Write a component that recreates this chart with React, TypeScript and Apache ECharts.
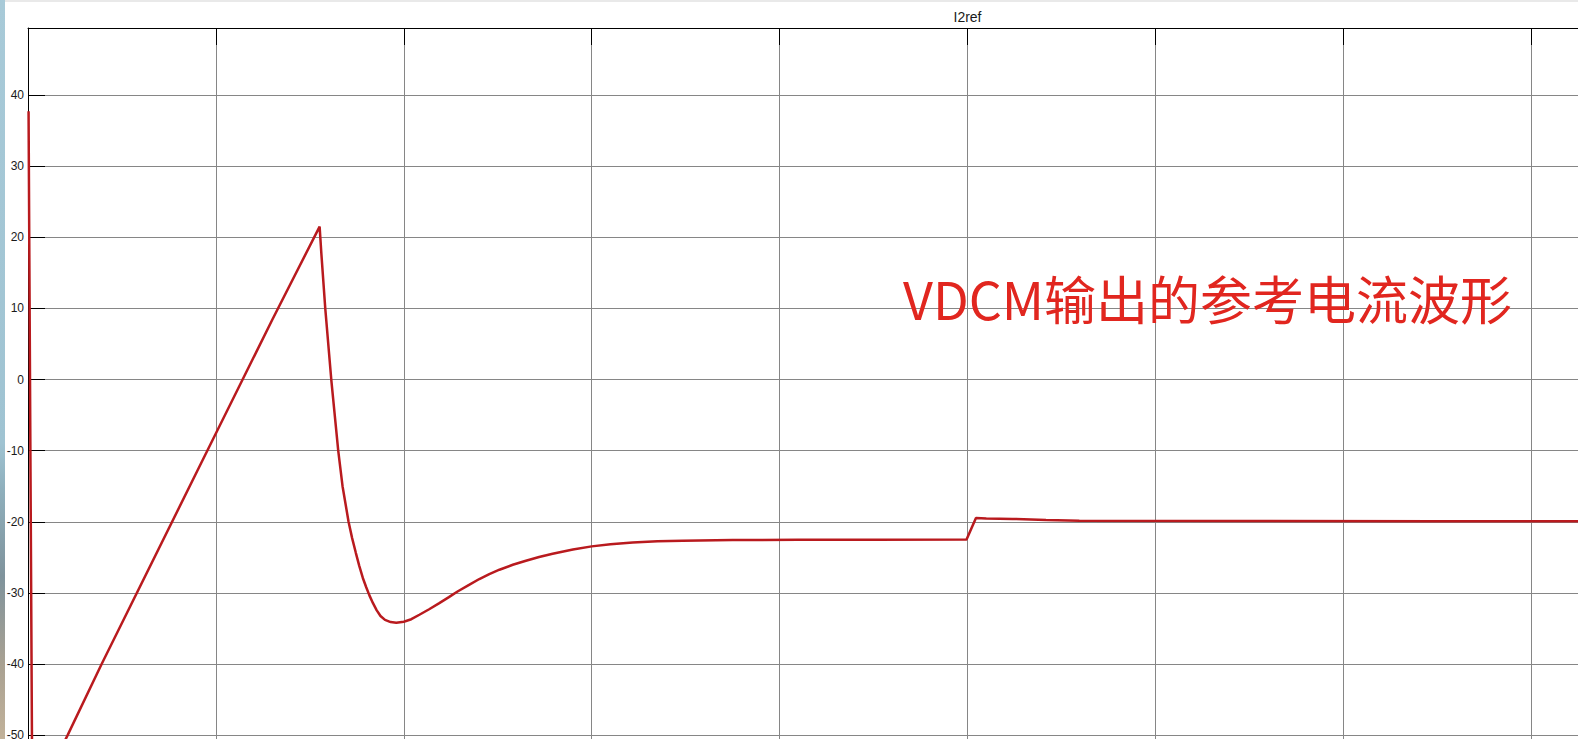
import React, { useEffect, useRef } from "react";
import * as echarts from "echarts";

// time in grid divisions (x axis has 10 divisions, labels hidden as in the scope)
const timeValues = [
  0.003, 0.023, 0.211, 0.392, 0.9, 1.3, 1.552,
  1.561, 1.582, 1.614, 1.651, 1.674, 1.706, 1.725, 1.745, 1.763, 1.782, 1.8, 1.817, 1.836, 1.856, 1.876, 1.9, 1.93, 1.96,
  2.0, 2.04, 2.083, 2.135, 2.189, 2.24, 2.286, 2.345, 2.402, 2.455, 2.509, 2.58, 2.65, 2.72, 2.792, 2.9, 3.0,
  3.1, 3.218, 3.35, 3.484, 3.75, 4.1, 4.5, 4.995,
  5.045, 5.1, 5.24, 5.418, 5.595, 6.5, 7.5, 8.5, 10.0,
];
const currentValues = [
  37.7, -60, -50, -40, -12.9, 8.4, 21.5,
  17.8, 10, 0, -10, -15, -20, -22.3, -24.4, -26.2, -27.9, -29.2, -30.35, -31.45, -32.45, -33.25, -33.8, -34.1, -34.2,
  -34.05, -33.7, -33.07, -32.3, -31.43, -30.6, -29.8, -28.9, -28.05, -27.35, -26.74, -26.05, -25.48, -24.95, -24.49, -23.9, -23.46,
  -23.15, -22.9, -22.75, -22.66, -22.57, -22.53, -22.52, -22.5,
  -19.47, -19.55, -19.6, -19.74, -19.85, -19.9, -19.92, -19.93, -19.93,
];
const yTicks = [40, 30, 20, 10, 0, -10, -20, -30, -40, -50, -60, -70];
const titleText = "I2ref";
const noteText = "VDCM输出的参考电流波形";

export default function App() {
  const ref = useRef<HTMLDivElement>(null);
  useEffect(() => {
    if (!ref.current) return;
    const chart = echarts.init(ref.current, undefined, { renderer: "svg" });
    const data = timeValues.map((t, i) => [t, currentValues[i]]);
    chart.setOption({
      animation: false,
      backgroundColor: "#ffffff",
      grid: { left: 28, top: 28, width: 1879, height: 849.4, containLabel: false },
      xAxis: {
        type: "value",
        position: "top",
        min: 0,
        max: 10,
        interval: 1,
        axisLine: { show: true, onZero: false, lineStyle: { color: "#000", width: 1 } },
        axisTick: { show: true, inside: true, length: 17, lineStyle: { color: "#000", width: 1 } },
        axisLabel: { show: false },
        splitLine: { show: true, lineStyle: { color: "#868686", width: 1 } },
      },
      yAxis: {
        type: "value",
        min: yTicks[yTicks.length - 1],
        max: 49.42,
        interval: 10,
        axisLine: { show: true, onZero: false, lineStyle: { color: "#000", width: 1 } },
        axisTick: { show: true, inside: true, length: 17, lineStyle: { color: "#000", width: 1 } },
        axisLabel: {
          show: true,
          margin: 4,
          fontSize: 12,
          fontFamily: "Liberation Sans, Arial, sans-serif",
          color: "#1a1a1a",
          showMaxLabel: false,
          formatter: (v: number) => (yTicks.includes(v) ? String(v) : ""),
        },
        splitLine: { show: true, lineStyle: { color: "#868686", width: 1 } },
      },
      graphic: [
        {
          type: "rect",
          shape: { x: 0, y: 0, width: 1940, height: 2 },
          style: { fill: "#e9e9e9" },
          silent: true,
        },
        {
          type: "rect",
          shape: { x: 0, y: 0, width: 5, height: 739 },
          style: {
            fill: new echarts.graphic.LinearGradient(0, 0, 0, 1, [
              { offset: 0, color: "#a8cad8" },
              { offset: 0.6, color: "#9fc3d2" },
              { offset: 0.66, color: "#8fb0bd" },
              { offset: 0.78, color: "#7f939c" },
              { offset: 0.9, color: "#a9a192" },
              { offset: 1, color: "#c2b29a" },
            ]),
          },
          silent: true,
        },
        {
          type: "text",
          x: 967.5,
          y: 17,
          style: {
            text: titleText,
            fontSize: 14,
            fontFamily: "Liberation Sans, Arial, sans-serif",
            fill: "#1a1a1a",
            textAlign: "center",
            textVerticalAlign: "middle",
          },
        },
        {
          type: "text",
          x: 903,
          y: 297,
          z: 10,
          style: {
            text: noteText,
            fontSize: 52,
            fontFamily: "Noto Sans CJK SC, sans-serif",
            fill: "#e1261f",
            textAlign: "left",
            textVerticalAlign: "middle",
          },
        },
      ],
      series: [
        {
          type: "line",
          data,
          showSymbol: false,
          symbol: "none",
          lineStyle: { color: "#b91a1e", width: 2.5 },
          z: 5,
        },
      ],
    });
    return () => chart.dispose();
  }, []);
  return (
    <div
      style={{
        position: "fixed",
        left: 0,
        top: 0,
        width: 1578,
        height: 739,
        overflow: "hidden",
        background: "#fff",
      }}
    >
      <div ref={ref} style={{ width: 1940, height: 900 }} />
    </div>
  );
}
